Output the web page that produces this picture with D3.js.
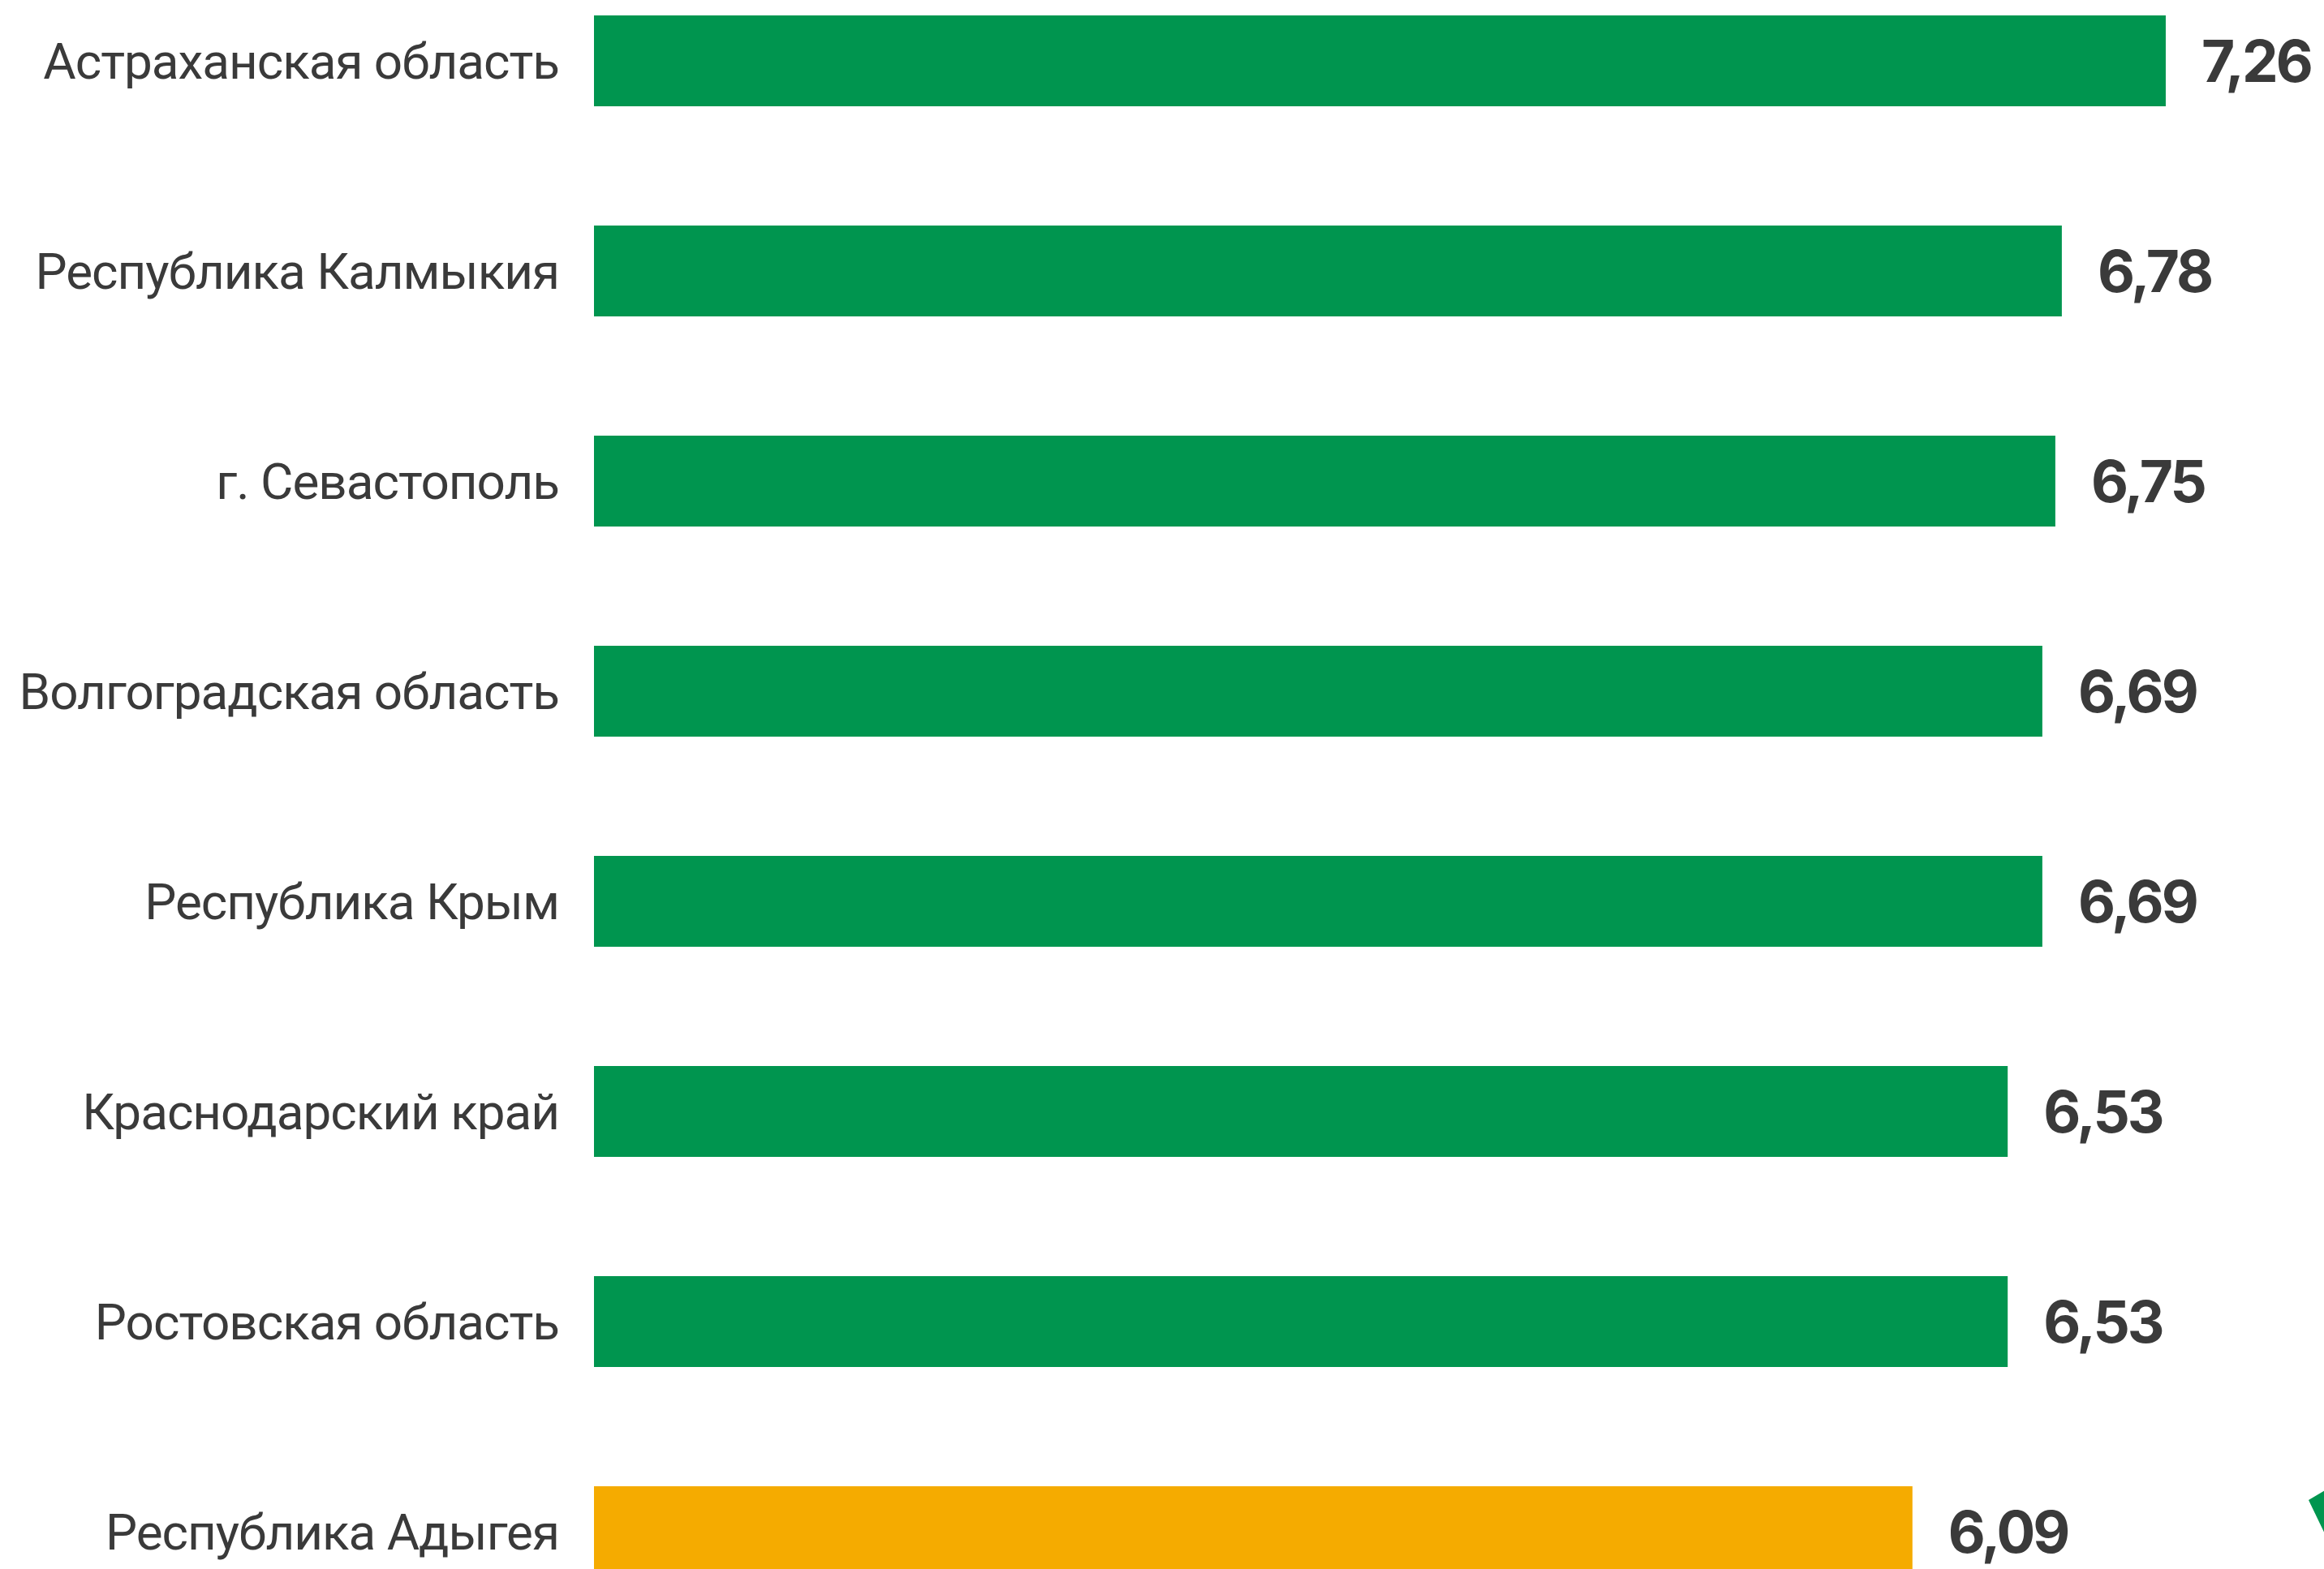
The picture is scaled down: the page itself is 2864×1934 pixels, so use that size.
<!DOCTYPE html>
<html>
<head>
<meta charset="utf-8">
<script src="https://cdn.jsdelivr.net/npm/d3@7"></script>
<style>
  html, body { margin: 0; padding: 0; background: #ffffff; overflow: hidden; }
  svg { display: block; }
</style>
</head>
<body>
<script>
// ---- data ----
const categories = [
  "Астраханская область",
  "Республика Калмыкия",
  "г. Севастополь",
  "Волгоградская область",
  "Республика Крым",
  "Краснодарский край",
  "Ростовская область",
  "Республика Адыгея"
];
const values = [7.26, 6.78, 6.75, 6.69, 6.69, 6.53, 6.53, 6.09];
const highlighted = ["Республика Адыгея"];

// ---- layout ----
const W = 2864, H = 1934;
const green = "#00954f", orange = "#f5ab00", textCol = "#3a3a3a";

const svg = d3.select("body").append("svg")
  .attr("width", W).attr("height", H)
  .attr("viewBox", `0 0 ${W} ${H}`);

svg.append("rect").attr("width", W).attr("height", H).attr("fill", "#fff");

const x = d3.scaleLinear().domain([0, 8]).range([732, 732 + 8 * 266.8]);
const step = 259, band = 112;
const pInner = (step - band) / step;
const y = d3.scaleBand()
  .domain(categories)
  .range([19, 19 + step * (categories.length - pInner)])
  .paddingInner(pInner)
  .paddingOuter(0);

const locale = d3.formatLocale({decimal: ",", thousands: " ", grouping: [3], currency: ["", ""]});
const fmt = locale.format(".2f");

const data = categories.map((c, i) => ({cat: c, val: values[i]}));

// bars
svg.append("g").selectAll("rect").data(data).join("rect")
  .attr("x", x(0))
  .attr("y", d => y(d.cat))
  .attr("width", d => x(d.val) - x(0))
  .attr("height", y.bandwidth())
  .attr("fill", d => highlighted.includes(d.cat) ? orange : green);

// category labels
const catSize = 62;
svg.append("g").selectAll("text").data(data).join("text")
  .attr("x", 689)
  .attr("y", d => y(d.cat) + y.bandwidth() / 2 + catSize * 0.711 / 2)
  .attr("text-anchor", "end")
  .attr("font-family", "Roboto, 'Noto Sans', sans-serif")
  .attr("font-size", catSize)
  .attr("letter-spacing", -1)
  .attr("fill", textCol)
  .text(d => d.cat);

// value labels
const valSize = 71;
svg.append("g").selectAll("text").data(data).join("text")
  .attr("x", d => x(d.val) + 44)
  .attr("y", d => y(d.cat) + y.bandwidth() / 2 + valSize * 0.727 / 2)
  .attr("text-anchor", "start")
  .attr("font-family", "Inter, Lato, sans-serif")
  .attr("font-weight", 700)
  .attr("font-size", valSize)
  .attr("letter-spacing", -3)
  .attr("fill", textCol)
  .text(d => fmt(d.val));

// decorative green corner mark (partially visible)
svg.append("polygon")
  .attr("points", "2845,1849 2884,1826 2884,1930")
  .attr("fill", green);
</script>
</body>
</html>
